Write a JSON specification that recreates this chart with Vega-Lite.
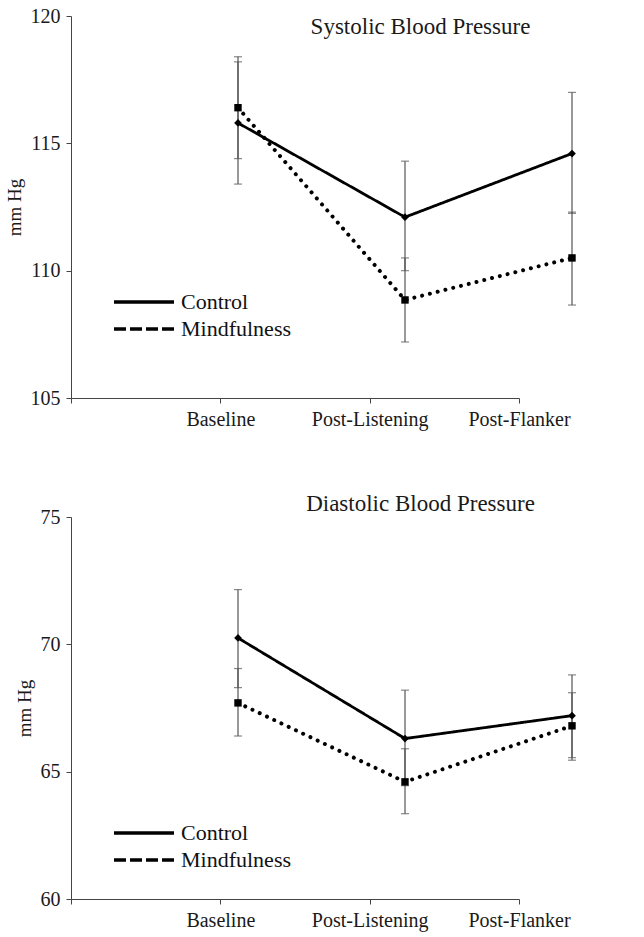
{
  "$schema": "https://vega.github.io/schema/vega-lite/v6.json",
  "background": "white",
  "padding": {"left": 5, "top": 6, "right": 5, "bottom": 2},
  "datasets": {
    "sys": [
      {"group": "Control", "time": "Baseline", "mean": 115.8, "lo": 113.4, "hi": 118.2},
      {"group": "Control", "time": "Post-Listening", "mean": 112.1, "lo": 110.0, "hi": 114.3},
      {"group": "Control", "time": "Post-Flanker", "mean": 114.6, "lo": 112.25, "hi": 117.0},
      {"group": "Mindfulness", "time": "Baseline", "mean": 116.4, "lo": 114.4, "hi": 118.4},
      {"group": "Mindfulness", "time": "Post-Listening", "mean": 108.85, "lo": 107.2, "hi": 110.5},
      {"group": "Mindfulness", "time": "Post-Flanker", "mean": 110.5, "lo": 108.65, "hi": 112.3}
    ],
    "dia": [
      {"group": "Control", "time": "Baseline", "mean": 70.25, "lo": 68.3, "hi": 72.15},
      {"group": "Control", "time": "Post-Listening", "mean": 66.3, "lo": 64.45, "hi": 68.2},
      {"group": "Control", "time": "Post-Flanker", "mean": 67.2, "lo": 65.55, "hi": 68.8},
      {"group": "Mindfulness", "time": "Baseline", "mean": 67.7, "lo": 66.4, "hi": 69.05},
      {"group": "Mindfulness", "time": "Post-Listening", "mean": 64.6, "lo": 63.35, "hi": 65.9},
      {"group": "Mindfulness", "time": "Post-Flanker", "mean": 66.8, "lo": 65.45, "hi": 68.1}
    ]
  },
  "spacing": 64,
  "vconcat": [
    {
      "data": {"name": "sys"},
      "width": 501,
      "height": 382,
      "title": {"text": "Systolic Blood Pressure", "anchor": "middle", "frame": "group", "dx": 99, "offset": -51, "baseline": "alphabetic"},
      "layer": [
        {
          "mark": {"type": "point", "opacity": 0},
          "encoding": {
            "x": {"field": "time", "type": "ordinal", "sort": null,
                  "scale": {"type": "point", "domain": ["", "Baseline", "Post-Listening", "Post-Flanker"], "range": [0, 448], "padding": 0},
                  "axis": {"orient": "bottom", "title": null, "labelAngle": 0, "labelOverlap": false, "labelBound": false}},
            "y": {"field": "mean", "type": "quantitative",
                  "scale": {"domain": [105, 120], "zero": false, "nice": false},
                  "axis": {"values": [105, 110, 115, 120], "title": "mm Hg"}}
          }
        },
        {
          "encoding": {
            "x": {"field": "time", "type": "ordinal", "sort": null,
                  "scale": {"type": "point", "domain": ["", "Baseline", "Post-Listening", "Post-Flanker"], "padding": 0},
                  "axis": null}
          },
          "layer": [
            {"mark": {"type": "rule", "color": "#555", "strokeWidth": 1.2},
             "encoding": {"y": {"field": "lo", "type": "quantitative"}, "y2": {"field": "hi"}}},
            {"mark": {"type": "tick", "color": "#555", "size": 8, "thickness": 1.2, "orient": "horizontal"},
             "encoding": {"y": {"field": "lo", "type": "quantitative"}}},
            {"mark": {"type": "tick", "color": "#555", "size": 8, "thickness": 1.2, "orient": "horizontal"},
             "encoding": {"y": {"field": "hi", "type": "quantitative"}}},
            {"transform": [{"filter": "datum.group === 'Control'"}],
             "mark": {"type": "line", "color": "black", "strokeWidth": 2.8, "strokeCap": "round"},
             "encoding": {
               "y": {"field": "mean", "type": "quantitative"},
               "strokeDash": {"field": "group", "type": "nominal",
                 "scale": {"domain": ["Control", "Mindfulness"], "range": [[1, 0], [12, 4]]},
                 "legend": {"orient": "none", "legendX": 61, "legendY": 274, "title": null,
                   "symbolType": "M-3,0H3", "symbolSize": 400, "symbolStrokeWidth": 3.5, "symbolStrokeColor": "black",
                   "labelFont": "Liberation Serif", "labelFontSize": 22, "labelColor": "#111", "labelOffset": 25, "rowPadding": 4,
                   "encode": {"symbols": {"update": {"strokeCap": {"value": "butt"}, "strokeWidth": {"value": 3.5}, "stroke": {"value": "black"}}}}}
               }
             }},
            {"transform": [{"filter": "datum.group === 'Mindfulness'"}],
             "mark": {"type": "line", "color": "black", "strokeWidth": 4, "strokeCap": "round", "strokeDash": [0.01, 8]},
             "encoding": {
               "y": {"field": "mean", "type": "quantitative"}
             }},
            {"transform": [{"filter": "datum.group === 'Control'"}],
             "mark": {"type": "point", "filled": true, "color": "black", "opacity": 1, "shape": "diamond", "size": 60},
             "encoding": {"y": {"field": "mean", "type": "quantitative"}}},
            {"transform": [{"filter": "datum.group === 'Mindfulness'"}],
             "mark": {"type": "point", "filled": true, "color": "black", "opacity": 1, "shape": "square", "size": 55},
             "encoding": {"y": {"field": "mean", "type": "quantitative"}}}
          ]
        }
      ],
      "resolve": {"scale": {"x": "independent"}, "axis": {"x": "independent"}}
    },
    {
      "data": {"name": "dia"},
      "width": 501,
      "height": 382,
      "title": {"text": "Diastolic Blood Pressure", "anchor": "middle", "frame": "group", "dx": 99, "offset": -27, "baseline": "alphabetic"},
      "layer": [
        {
          "mark": {"type": "point", "opacity": 0},
          "encoding": {
            "x": {"field": "time", "type": "ordinal", "sort": null,
                  "scale": {"type": "point", "domain": ["", "Baseline", "Post-Listening", "Post-Flanker"], "range": [0, 448], "padding": 0},
                  "axis": {"orient": "bottom", "title": null, "labelAngle": 0, "labelOverlap": false, "labelBound": false}},
            "y": {"field": "mean", "type": "quantitative",
                  "scale": {"domain": [60, 75], "zero": false, "nice": false},
                  "axis": {"values": [60, 65, 70, 75], "title": "mm Hg"}}
          }
        },
        {
          "encoding": {
            "x": {"field": "time", "type": "ordinal", "sort": null,
                  "scale": {"type": "point", "domain": ["", "Baseline", "Post-Listening", "Post-Flanker"], "padding": 0},
                  "axis": null}
          },
          "layer": [
            {"mark": {"type": "rule", "color": "#555", "strokeWidth": 1.2},
             "encoding": {"y": {"field": "lo", "type": "quantitative"}, "y2": {"field": "hi"}}},
            {"mark": {"type": "tick", "color": "#555", "size": 8, "thickness": 1.2, "orient": "horizontal"},
             "encoding": {"y": {"field": "lo", "type": "quantitative"}}},
            {"mark": {"type": "tick", "color": "#555", "size": 8, "thickness": 1.2, "orient": "horizontal"},
             "encoding": {"y": {"field": "hi", "type": "quantitative"}}},
            {"transform": [{"filter": "datum.group === 'Control'"}],
             "mark": {"type": "line", "color": "black", "strokeWidth": 2.8, "strokeCap": "round"},
             "encoding": {
               "y": {"field": "mean", "type": "quantitative"},
               "strokeDash": {"field": "group", "type": "nominal",
                 "scale": {"domain": ["Control", "Mindfulness"], "range": [[1, 0], [12, 4]]},
                 "legend": {"orient": "none", "legendX": 61, "legendY": 304, "title": null,
                   "symbolType": "M-3,0H3", "symbolSize": 400, "symbolStrokeWidth": 3.5, "symbolStrokeColor": "black",
                   "labelFont": "Liberation Serif", "labelFontSize": 22, "labelColor": "#111", "labelOffset": 25, "rowPadding": 4,
                   "encode": {"symbols": {"update": {"strokeCap": {"value": "butt"}, "strokeWidth": {"value": 3.5}, "stroke": {"value": "black"}}}}}
               }
             }},
            {"transform": [{"filter": "datum.group === 'Mindfulness'"}],
             "mark": {"type": "line", "color": "black", "strokeWidth": 4, "strokeCap": "round", "strokeDash": [0.01, 8]},
             "encoding": {
               "y": {"field": "mean", "type": "quantitative"}
             }},
            {"transform": [{"filter": "datum.group === 'Control'"}],
             "mark": {"type": "point", "filled": true, "color": "black", "opacity": 1, "shape": "diamond", "size": 60},
             "encoding": {"y": {"field": "mean", "type": "quantitative"}}},
            {"transform": [{"filter": "datum.group === 'Mindfulness'"}],
             "mark": {"type": "point", "filled": true, "color": "black", "opacity": 1, "shape": "square", "size": 55},
             "encoding": {"y": {"field": "mean", "type": "quantitative"}}}
          ]
        }
      ],
      "resolve": {"scale": {"x": "independent"}, "axis": {"x": "independent"}}
    }
  ],
  "resolve": {"legend": {"strokeDash": "independent"}, "scale": {"strokeDash": "independent"}},
  "config": {
    "view": {"stroke": null},
    "font": "Liberation Serif",
    "title": {"font": "Liberation Serif", "fontSize": 23, "fontWeight": "normal", "color": "#1a1a1a"},
    "axis": {
      "grid": false,
      "domainColor": "#444", "tickColor": "#444", "domainWidth": 1, "tickWidth": 1, "tickSize": 5,
      "labelFont": "Liberation Serif", "labelFontSize": 20, "labelColor": "#1a1a1a", "labelPadding": 6,
      "titleFont": "Liberation Serif", "titleFontSize": 19, "titleFontWeight": "normal", "titleColor": "#1a1a1a", "titlePadding": 6
    }
  }
}
